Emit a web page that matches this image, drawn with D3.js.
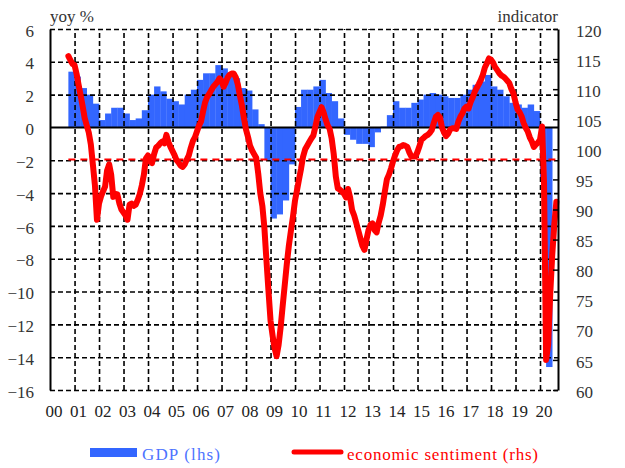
<!DOCTYPE html>
<html>
<head>
<meta charset="utf-8">
<script src="https://cdn.jsdelivr.net/npm/d3@7"></script>
<style>
  body { margin: 0; background: #fff; }
  .grid line { stroke: #000; stroke-width: 1.6; stroke-dasharray: 5,3; }
  .grid path { display: none; }
</style>
</head>
<body>
<div id="chart"></div>
<script>
// year labels on the time axis
var xLabels = ['00','01','02','03','04','05','06','07','08','09','10',
  '11','12','13','14','15','16','17','18','19','20'];
var leftTicks = [6, 4, 2, 0, -2, -4, -6, -8, -10, -12, -14, -16];
var rightTicks = [120, 115, 110, 105, 100, 95, 90, 85, 80, 75, 70, 65, 60];

// GDP yoy %, quarterly, first quarter 2000 Q4
var gdpFirst = {year: 2000, quarter: 4};
var gdpValues = [
  3.4,
  3.1, 2.4, 2.0, 1.45,
  0.45, 0.85, 1.2, 1.2,
  0.85, 0.45, 0.55, 1.05,
  2.0, 2.5, 2.2, 1.75,
  1.6, 1.4, 2.0, 2.3,
  2.9, 3.3, 3.3, 3.8,
  3.6, 3.3, 3.0, 2.4,
  2.25, 1.1, 0.2, -2.0,
  -5.55, -5.3, -4.45, -2.25,
  1.25, 2.3, 2.3, 2.5,
  2.9, 2.1, 1.6, 0.55,
  -0.45, -0.75, -1.0, -1.0,
  -1.2, -0.3, 0.05, 0.75,
  1.6, 1.2, 1.2, 1.5,
  1.7, 2.0, 2.1, 2.0,
  1.9, 1.8, 1.8, 2.0,
  2.3, 2.6, 2.8, 3.2,
  2.5, 2.3, 1.9, 1.5,
  1.4, 1.2, 1.4, 1.0,
  -3.2, -14.6
];

// economic sentiment indicator, monthly, first month Oct 2000
var esiFirst = {year: 2000, month: 10};
var esiValues = [
  115.5, 114.8, 114.2,
  114.0, 112.5, 110.8, 109.0, 107.2, 105.2, 104.0, 102.8, 100.8, 97.5, 94.0, 88.3,
  91.0, 92.2, 93.0, 93.8, 96.5, 97.5, 95.8, 92.1, 92.6, 92.5, 91.0, 90.0,
  89.5, 89.0, 88.3, 90.8, 91.0, 90.6, 90.8, 91.6, 92.6, 94.0, 95.8, 98.5,
  99.0, 98.0, 97.7, 99.2, 100.3, 100.6, 101.0, 101.3, 101.0, 102.4, 101.2, 100.4,
  99.7, 99.0, 98.2, 97.8, 97.3, 97.1, 97.5, 98.3, 99.0, 100.3, 101.4, 102.0,
  103.0, 104.0, 104.6, 106.3, 107.8, 108.7, 109.2, 109.8, 110.4, 110.8, 111.2, 111.8,
  111.4, 110.4, 111.0, 111.9, 112.4, 112.6, 112.6, 112.0, 110.8, 109.0, 107.3, 105.2,
  103.3, 102.0, 100.6, 99.8, 99.2, 98.6, 96.0, 92.7, 90.6, 87.0, 81.5, 76.5,
  71.5, 69.0, 67.0, 65.6, 67.5, 70.5, 74.0, 77.5, 81.0, 84.0, 86.5, 88.8,
  91.5, 93.3, 95.0, 96.8, 98.8, 100.0, 100.6, 101.2, 101.8, 102.3, 103.8, 105.4,
  106.2, 107.0, 106.2, 105.0, 104.0, 103.4, 101.8, 99.2, 95.5, 93.5, 93.3, 93.0,
  92.6, 92.0, 93.4, 92.0, 89.9, 89.0, 87.8, 86.5, 85.2, 84.0, 83.3, 85.0,
  86.6, 87.5, 87.7, 86.6, 86.2, 87.8, 89.0, 90.8, 93.0, 95.0, 95.8, 96.8,
  98.0, 99.0, 99.8, 100.4, 100.5, 100.7, 100.6, 100.4, 99.5, 98.8, 98.8, 98.8,
  99.6, 100.6, 101.6, 101.9, 102.2, 102.4, 102.7, 103.2, 104.4, 105.4, 105.7, 105.3,
  103.6, 102.8, 102.2, 102.6, 103.3, 103.5, 103.5, 103.4, 104.6, 105.4, 106.0, 106.8,
  107.1, 106.8, 107.8, 108.6, 109.5, 110.2, 110.8, 111.5, 112.4, 113.6, 114.3, 115.1,
  114.9, 114.4, 113.7, 113.2, 112.7, 112.3, 112.1, 111.8, 111.4, 111.0, 110.0, 109.3,
  107.8, 106.6, 106.2, 105.5, 104.4, 103.6, 103.0, 102.0, 101.3, 100.4, 100.8, 101.1,
  101.6, 103.8, 94.5, 65.0, 67.5, 75.8, 82.4, 87.5, 91.3
];
// long-run average of the indicator (red dashed line)
var esiAverage = 98.3;

var blue = '#3366ff', red = '#ff0000';
var serif = "'Liberation Serif'";

function sentimentChart() {
  var _chart = {};
  var _width = 625, _height = 468,
    _margins = {top: 29, left: 50, right: 67, bottom: 78},
    _x, _yL, _yR, _svg;

  _chart.render = function (id) {
    _svg = d3.select('#' + id).append('svg')
      .attr('width', _width)
      .attr('height', _height);

    _x = d3.scaleTime()
      .domain([new Date(2000, 0, 1), new Date(2020, 0, 1)])
      .range([xStart(), xStart() + 490]);
    _yL = d3.scaleLinear().domain([-16, 6]).range([yStart(), yEnd()]);
    _yR = d3.scaleLinear().domain([60, 120]).range([yStart(), yEnd()]);

    renderBars();
    renderGrid();
    renderLines();
    renderAxes();
    renderLegend();

    _svg.selectAll('text')
      .style('font-family', serif)
      .style('font-size', '17px');
  };

  function gdpData() {
    return gdpValues.map(function (v, i) {
      var q = gdpFirst.quarter - 1 + i;
      return {
        start: new Date(gdpFirst.year, 3 * q, 1),
        end: new Date(gdpFirst.year, 3 * q + 3, 1),
        value: v
      };
    });
  }

  function esiData() {
    return esiValues.map(function (v, i) {
      return {date: new Date(esiFirst.year, esiFirst.month - 1 + i, 1), value: v};
    });
  }

  function renderBars() {
    _svg.append('g').attr('class', 'bars')
      .selectAll('rect')
      .data(gdpData())
      .enter().append('rect')
        .attr('x', function (d) { return _x(d.start); })
        .attr('width', function (d) { return _x(d.end) - _x(d.start) + 0.3; })
        .attr('y', function (d) { return _yL(Math.max(0, d.value)); })
        .attr('height', function (d) { return Math.abs(_yL(d.value) - _yL(0)); })
        .attr('fill', blue);
  }

  function renderGrid() {
    var years = d3.range(2001, 2021).map(function (y) { return new Date(y, 0, 1); });

    _svg.append('g')
      .attr('class', 'grid')
      .attr('transform', 'translate(0,' + yStart() + ')')
      .call(d3.axisBottom(_x).tickValues(years)
        .tickSize(-quadrantHeight()).tickFormat(''));

    _svg.append('g')
      .attr('class', 'grid')
      .attr('transform', 'translate(' + xStart() + ',0)')
      .call(d3.axisLeft(_yL).tickValues(leftTicks.filter(function (t) { return t !== 0; }))
        .tickSize(-quadrantWidth()).tickFormat(''));

    _svg.append('line')
      .attr('x1', xStart()).attr('x2', xEnd())
      .attr('y1', _yL(0)).attr('y2', _yL(0))
      .attr('stroke', '#000').attr('stroke-width', 2);
  }

  function renderLines() {
    var esi = esiData();

    _svg.append('line')
      .attr('x1', _x(esi[0].date)).attr('x2', _x(esi[esi.length - 1].date))
      .attr('y1', _yR(esiAverage)).attr('y2', _yR(esiAverage))
      .attr('stroke', red).attr('stroke-width', 2)
      .attr('stroke-dasharray', '7,5');

    var line = d3.line()
      .x(function (d) { return _x(d.date); })
      .y(function (d) { return _yR(d.value); });

    _svg.append('path')
      .datum(esi)
      .attr('d', line)
      .attr('fill', 'none')
      .attr('stroke', red)
      .attr('stroke-width', 6)
      .attr('stroke-linejoin', 'round')
      .attr('stroke-linecap', 'round');
  }

  function renderAxes() {
    var left = _svg.append('g')
      .attr('transform', 'translate(' + xStart() + ',0)')
      .call(d3.axisLeft(_yL).tickValues(leftTicks).tickSize(0).tickPadding(16));
    left.select('.domain').attr('stroke', '#000').attr('stroke-width', 2);
    left.selectAll('text').attr('dy', '0.42em').attr('fill', '#333');

    var right = _svg.append('g')
      .attr('transform', 'translate(' + xEnd() + ',0)')
      .call(d3.axisRight(_yR).tickValues(rightTicks)
        .tickSizeInner(-5).tickSizeOuter(0).tickPadding(18));
    right.select('.domain').attr('stroke', '#000').attr('stroke-width', 2);
    right.selectAll('line').attr('stroke', '#000').attr('stroke-width', 1.5);
    right.selectAll('text').attr('dy', '0.42em').attr('fill', '#333');

    // year labels
    _svg.append('g').selectAll('text')
      .data(xLabels)
      .enter().append('text')
        .attr('x', function (d, i) { return _x(new Date(2000 + i, 0, 1)) + 4; })
        .attr('y', yStart() + 27)
        .attr('text-anchor', 'middle')
        .attr('fill', '#222')
        .text(function (d) { return d; });

    _svg.append('text').attr('x', xStart()).attr('y', 22)
      .attr('fill', '#333').text('yoy %');
    _svg.append('text').attr('x', xEnd()).attr('y', 22)
      .attr('fill', '#333').attr('text-anchor', 'end').text('indicator');
  }

  function renderLegend() {
    var g = _svg.append('g').attr('class', 'legend');
    g.append('rect')
      .attr('x', 90).attr('y', 448).attr('width', 47).attr('height', 9)
      .attr('fill', blue);
    g.append('text')
      .attr('x', 142).attr('y', 460)
      .attr('textLength', 78)
      .attr('fill', '#4d73ff')
      .text('GDP (lhs)');
    g.append('line')
      .attr('x1', 294).attr('x2', 341).attr('y1', 452).attr('y2', 452)
      .attr('stroke', red).attr('stroke-width', 5)
      .attr('stroke-linecap', 'round');
    g.append('text')
      .attr('x', 347).attr('y', 460)
      .attr('textLength', 191)
      .attr('fill', red)
      .text('economic sentiment (rhs)');
  }

  function xStart() { return _margins.left; }
  function xEnd() { return _width - _margins.right; }
  function yStart() { return _height - _margins.bottom; }
  function yEnd() { return _margins.top; }
  function quadrantWidth() { return xEnd() - xStart(); }
  function quadrantHeight() { return yStart() - yEnd(); }

  return _chart;
}

var chart = sentimentChart();
chart.render('chart');
</script>
</body>
</html>
